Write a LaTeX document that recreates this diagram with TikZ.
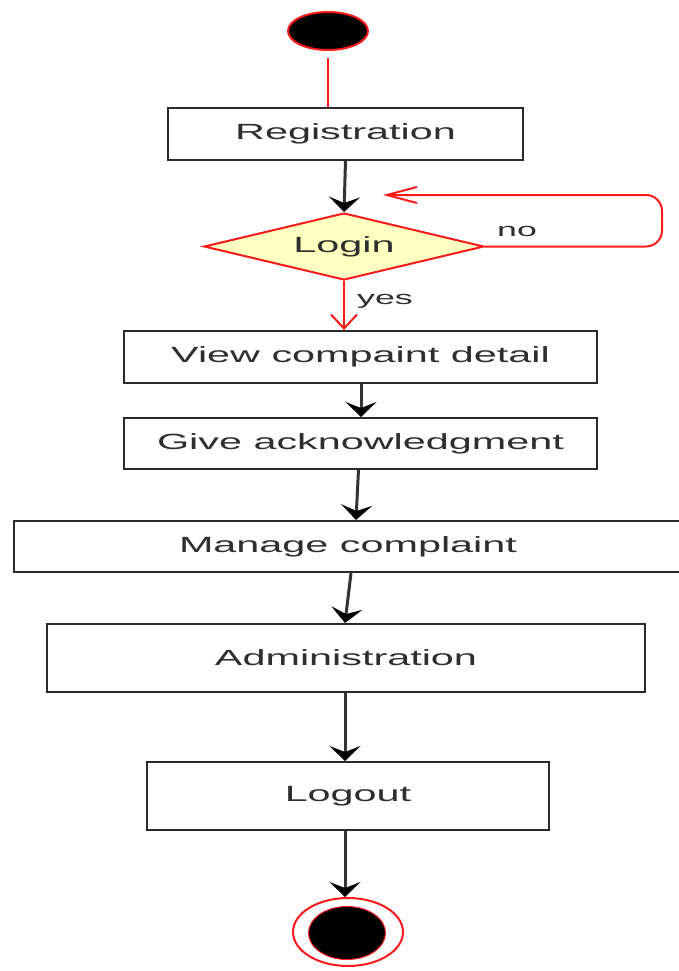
\documentclass[tikz,border=0pt]{standalone}
\usepackage{fontspec}
\newfontfamily\diagfont{Liberation Sans}[FakeStretch=1.88]
\usetikzlibrary{arrows.meta,shapes.geometric}
\definecolor{txt}{HTML}{2E2E2E}
\definecolor{edge}{HTML}{2A2A2A}
\definecolor{lred}{HTML}{FF1A1A}
\definecolor{dfill}{HTML}{FFFFC0}
\tikzset{
  act/.style={draw=edge, line width=2pt, fill=white, rectangle, inner sep=0pt,
    text=txt, font=\diagfont\fontsize{22}{26}\selectfont},
  flow/.style={draw=black!80, line width=3pt, -{Stealth[length=15pt,width=31pt,inset=6pt,fill=black,color=black]}},
  rflow/.style={draw=lred, line width=2pt},
  lbl/.style={text=txt, font=\diagfont\fontsize{19}{22}\selectfont, inner sep=0pt}
}
\begin{document}
\begin{tikzpicture}[x=1pt,y=-1pt]
\useasboundingbox (0,0) rectangle (678,971);
% start
\node[ellipse, fill=black, draw=lred, line width=2pt, minimum width=80pt, minimum height=38pt, inner sep=0pt] (start) at (328,31) {};
% activities
\node[act, minimum width=355pt, minimum height=52pt] (reg) at (345.5,134) {Registration};
\node[diamond, aspect=4.18, draw=lred, line width=2pt, fill=dfill, minimum width=280pt, minimum height=67pt, inner sep=0pt, text=txt, font=\diagfont\fontsize{22}{26}\selectfont] (login) at (344,246.5) {Login};
\node[act, minimum width=473pt, minimum height=52pt] (view) at (360.5,357) {View compaint detail};
\node[act, minimum width=473pt, minimum height=51pt] (give) at (360.5,443.5) {Give acknowledgment};
\node[act, minimum width=668pt, minimum height=51pt] (manage) at (348,546.5) {Manage complaint};
\node[act, minimum width=598pt, minimum height=68pt] (admin) at (346,658) {Administration};
\node[act, minimum width=402pt, minimum height=68pt] (logout) at (348,796) {Logout};
% end
\node[ellipse, draw=lred, line width=2pt, fill=white, minimum width=110pt, minimum height=68pt, inner sep=0pt] (end) at (348,932) {};
\node[ellipse, draw=lred, line width=1pt, fill=black, minimum width=77pt, minimum height=53pt, inner sep=0pt] (endin) at (347,933) {};
% connectors
\draw[rflow] ([yshift=-7pt]start.south) -- (start.south |- reg.north);
\draw[flow] (reg.south) -- (login.north);
\draw[rflow, -{Straight Barb[length=14pt,width=26pt]}] (login.south) -- (login.south |- view.north);
\node[lbl] (yes) at (385,301) {yes};
\coordinate (lp1) at (662,246.5);
\coordinate (lp2) at (662,195);
\coordinate (lend) at (383,195);
\draw[rflow, rounded corners=16pt, -{Straight Barb[length=30pt,width=16pt]}] (login.east) -- (lp1) -- (lp2) -- (lend);
\node[lbl] (no) at (517,231) {no};
\draw[flow] ([xshift=0.5pt]view.south) -- ([xshift=0.5pt]give.north);
\draw[flow] ([xshift=-2pt]give.south) -- ([xshift=8pt]manage.north);
\draw[flow] ([xshift=3pt]manage.south) -- ([xshift=-1pt]admin.north);
\draw[flow] ([xshift=-1pt]admin.south) -- ([xshift=-3pt]logout.north);
\draw[flow] ([xshift=-3pt]logout.south) -- ([xshift=-3pt]end.north);
\end{tikzpicture}
\end{document}
